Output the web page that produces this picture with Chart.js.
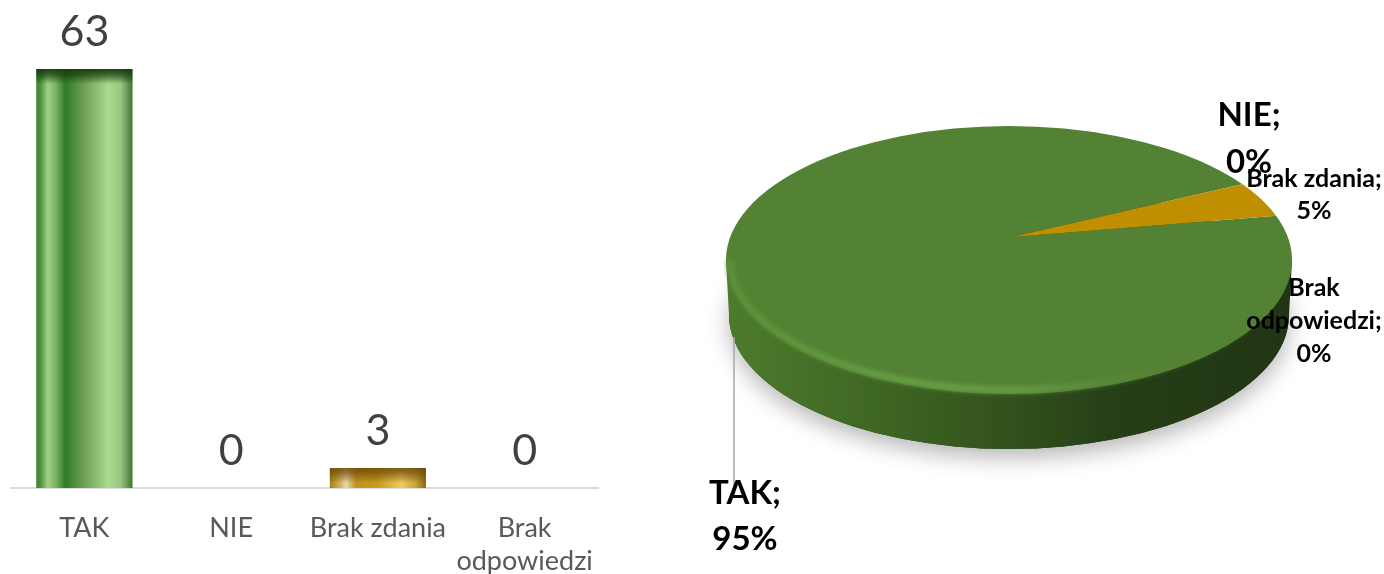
<!DOCTYPE html>
<html>
<head>
<meta charset="utf-8">
<style>
html,body{margin:0;padding:0;background:#fff;overflow:hidden;width:1384px;height:574px}
canvas{position:absolute;top:0}
#bar{left:0}
#pie{left:640px}
</style>
<script src="https://cdn.jsdelivr.net/npm/chart.js@4/dist/chart.umd.min.js"></script>
</head>
<body>
<canvas id="bar" width="640" height="574"></canvas>
<canvas id="pie" width="744" height="574"></canvas>
<script>
const categories = ['TAK', 'NIE', 'Brak zdania', 'Brak odpowiedzi'];
const tickLabels = ['TAK', 'NIE', 'Brak zdania', ['Brak', 'odpowiedzi']];
const counts = [63, 0, 3, 0];
const barBaseColors = ['#6FA858', '#6FA858', '#C79A22', '#C79A22'];
const pieColors = ['#548235', '#548235', '#BF8F00', '#BF8F00'];

const FONT = 'Lato, Carlito, sans-serif';
Chart.defaults.animation = false;
Chart.defaults.responsive = false;

const greenStops = [[0,'#3f8a30'],[.04,'#4b8f3c'],[.12,'#a0d086'],[.2,'#7ab465'],[.3,'#2f7c25'],[.5,'#6ea055'],[.75,'#a9da8e'],[.88,'#97c57f'],[.96,'#5d8f4e'],[1,'#3c7a34']];
const goldStops = [[0,'#a87f10'],[.1,'#cfae55'],[.17,'#e6d9a8'],[.27,'#bf9320'],[.5,'#c99a1a'],[.75,'#edcb5e'],[.9,'#c9a035'],[1,'#8a6510']];

const barDecor = {
  id: 'barDecor',
  afterDatasetsDraw(chart) {
    const c = chart.ctx;
    chart.getDatasetMeta(0).data.forEach((el, i) => {
      const v = counts[i];
      const p = el.getProps(['x', 'y', 'base', 'width'], true);
      if (v > 0) {
        const l = p.x - p.width / 2, w = p.width, h = p.base - p.y;
        const g = c.createLinearGradient(l, 0, l + w, 0);
        const isGreen = i === 0;
        (isGreen ? greenStops : goldStops).forEach(s => g.addColorStop(s[0], s[1]));
        c.fillStyle = g;
        c.fillRect(l, p.y, w, h);
        const band = 15;
        const t = c.createLinearGradient(0, p.y, 0, p.y + band);
        t.addColorStop(0, isGreen ? 'rgba(22,58,14,.95)' : 'rgba(105,70,10,.85)');
        t.addColorStop(.4, isGreen ? 'rgba(22,58,14,.7)' : 'rgba(105,70,10,.6)');
        t.addColorStop(1, isGreen ? 'rgba(22,58,14,0)' : 'rgba(105,70,10,0)');
        c.fillStyle = t;
        c.fillRect(l, p.y, w, band);
      }
      c.fillStyle = '#404040';
      c.font = '43px ' + FONT;
      c.textAlign = 'center';
      c.textBaseline = 'middle';
      c.fillText(String(v), p.x, p.y - 37);
    });
  }
};

new Chart(document.getElementById('bar'), {
  type: 'bar',
  data: {
    labels: tickLabels,
    datasets: [{ data: counts, backgroundColor: barBaseColors, barPercentage: .654, categoryPercentage: 1 }]
  },
  options: {
    layout: { padding: { left: 11, right: 42, top: 69, bottom: 0 } },
    plugins: { legend: { display: false }, tooltip: { enabled: false } },
    scales: {
      y: { display: false, min: 0, max: 63 },
      x: {
        afterFit(s) { s.height = 86; },
        border: { color: '#D9D9D9', width: 2 },
        grid: { drawOnChartArea: false, drawTicks: false },
        ticks: { color: '#595959', font: { family: FONT, size: 27, lineHeight: 1.25 }, padding: 23, maxRotation: 0, autoSkip: false }
      }
    }
  },
  plugins: [barDecor]
});

const total = counts.reduce((a, b) => a + b, 0);
const pct = i => Math.round(counts[i] / total * 100) + '%';

const TILT = 0.47;
const top3d = { x: 369, y: 260, rx: 283, ry: 134 };
const bot3d = { x: 369, y: 315, rx: 280, ry: 134 };

function text(c, lines, x, y, lh, size) {
  c.fillStyle = '#000';
  c.font = 'bold ' + size + 'px ' + FONT;
  c.textAlign = 'center';
  c.textBaseline = 'middle';
  lines.forEach((t, k) => c.fillText(t, x, y + k * lh));
}

const pie3d = {
  id: 'pie3d',
  beforeDatasetsDraw(chart) {
    const c = chart.ctx;
    const arc = chart.getDatasetMeta(0).data[0];
    // soft ground shadow
    c.save();
    c.shadowColor = 'rgba(0,0,0,.28)';
    c.shadowBlur = 22;
    c.shadowOffsetY = 9;
    c.fillStyle = '#2a4218';
    c.beginPath();
    c.ellipse(bot3d.x, bot3d.y, bot3d.rx, bot3d.ry, 0, 0, Math.PI * 2);
    c.fill();
    c.restore();
    // side wall
    const g = c.createLinearGradient(top3d.x - top3d.rx, 0, top3d.x + top3d.rx, 0);
    g.addColorStop(0, '#4d7c2d');
    g.addColorStop(.12, '#477228');
    g.addColorStop(.33, '#3b6122');
    g.addColorStop(.5, '#32511c');
    g.addColorStop(.68, '#263f17');
    g.addColorStop(1, '#213514');
    c.fillStyle = g;
    c.beginPath();
    c.moveTo(top3d.x + top3d.rx, top3d.y);
    c.lineTo(bot3d.x + bot3d.rx, bot3d.y);
    c.ellipse(bot3d.x, bot3d.y, bot3d.rx, bot3d.ry, 0, 0, Math.PI);
    c.lineTo(top3d.x - top3d.rx, top3d.y);
    c.closePath();
    c.fill();
    // top face: the library's arcs, tilted, clipped to the face outline
    c.save();
    c.beginPath();
    c.ellipse(top3d.x, top3d.y, top3d.rx, top3d.ry, 0, 0, Math.PI * 2);
    c.clip();
    const s = 1.5;
    c.translate(arc.x, arc.y);
    c.scale(s, s * TILT);
    c.translate(-arc.x, -arc.y);
  },
  afterDatasetsDraw(chart) {
    const c = chart.ctx;
    c.restore();
    // bevel highlight on lower rim
    const g = c.createLinearGradient(top3d.x - top3d.rx, 0, top3d.x + top3d.rx, 0);
    g.addColorStop(0, '#5c9438');
    g.addColorStop(.3, '#68a246');
    g.addColorStop(.5, '#68a246');
    g.addColorStop(.65, '#5a8c3c');
    g.addColorStop(.8, 'rgba(84,130,53,.6)');
    g.addColorStop(1, 'rgba(84,130,53,0)');
    c.save();
    c.filter = 'blur(2.5px)';
    c.strokeStyle = g;
    c.lineWidth = 6;
    c.beginPath();
    c.ellipse(top3d.x, top3d.y, top3d.rx - 4, top3d.ry - 4, 0, 0.1, Math.PI);
    c.stroke();
    c.restore();
    // leader line for the TAK label
    c.strokeStyle = '#A6A6A6';
    c.lineWidth = 1.5;
    c.beginPath();
    c.moveTo(94, 337);
    c.lineTo(94, 490);
    c.stroke();
    // data labels: category; percent
    text(c, [categories[0] + ';', pct(0)], 105, 493, 46, 33);
    text(c, [categories[1] + ';', pct(1)], 609, 115, 47, 33);
    text(c, [categories[2] + ';', pct(2)], 674, 179, 32, 25);
    const w = categories[3].split(' ');
    text(c, [w[0], w[1] + ';', pct(3)], 674, 288, 33, 25);
  }
};

new Chart(document.getElementById('pie'), {
  type: 'pie',
  data: {
    labels: categories,
    datasets: [{ data: counts, backgroundColor: pieColors, borderWidth: 0 }]
  },
  options: {
    rotation: 80.3,
    layout: { padding: { bottom: 100 } },
    plugins: { legend: { display: false }, tooltip: { enabled: false } }
  },
  plugins: [pie3d]
});
</script>
</body>
</html>
